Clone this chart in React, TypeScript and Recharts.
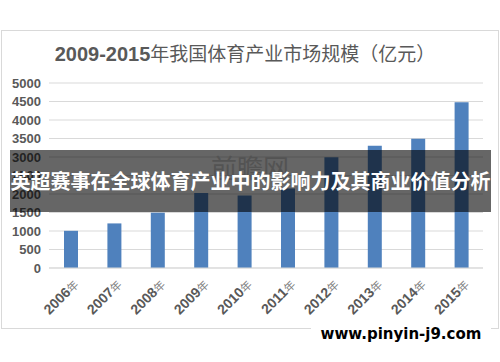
import { Bar, BarChart, CartesianGrid, XAxis, YAxis } from "recharts"

const years = ["2006", "2007", "2008", "2009", "2010", "2011", "2012", "2013", "2014", "2015"]
const marketSize = [1005, 1205, 1495, 2030, 1960, 2150, 2990, 3305, 3495, 4480]
const yTicks = [0, 500, 1000, 1500, 2000, 2500, 3000, 3500, 4000, 4500, 5000]

const data = years.map((y, i) => ({ name: y, total: marketSize[i] }))

const YearTick = (props: any) => {
  const { x, y, payload } = props
  return (
    <g transform={`translate(${x + 5},${y + 6}) rotate(-45)`}>
      <text textAnchor="end" dy={5} fontFamily="Liberation Sans, Arial" fontSize={14} fontWeight="bold" fill="#595959">
        {payload.value}
        <tspan fontSize={11} fontWeight="normal" fontFamily="Noto Sans CJK SC" fill="#7f7f7f">年</tspan>
      </text>
    </g>
  )
}

export default function App() {
  return (
    <div style={{ position: "absolute", left: 0, top: 0, width: 500, height: 362, background: "#fff", overflow: "hidden" }}>
      <div
        style={{
          position: "absolute",
          left: 1,
          top: 30,
          width: 496,
          height: 297,
          border: "1px solid #d9d9d9",
        }}
      />
      <div
        style={{
          position: "absolute",
          left: 0,
          top: 39,
          width: 490,
          textAlign: "center",
          color: "#595959",
          fontSize: 19,
          fontFamily: "Liberation Sans, Noto Sans CJK SC",
          whiteSpace: "nowrap",
        }}
      >
        <span style={{ fontWeight: "bold", fontSize: 20 }}>2009-2015</span>
        <span style={{ fontFamily: "Noto Sans CJK SC" }}>年我国体育产业市场规模（亿元）</span>
      </div>
      <BarChart
        width={500}
        height={362}
        data={data}
        margin={{ top: 83, right: 17, left: 4, bottom: 34 }}
        style={{ position: "absolute", left: 0, top: 0 }}
      >
        <CartesianGrid vertical={false} stroke="#d9d9d9" />
        <XAxis
          dataKey="name"
          tickLine={false}
          axisLine={{ stroke: "#d9d9d9" }}
          tick={<YearTick />}
          height={60}
          interval={0}
        />
        <YAxis
          width={45}
          domain={[0, 5000]}
          ticks={yTicks}
          interval={0}
          tickLine={false}
          axisLine={false}
          tick={{ fill: "#595959", fontSize: 13, fontWeight: "bold", fontFamily: "Liberation Sans, Arial" }}
        />
        <text x={250} y={178} textAnchor="middle" fontSize={26} fontFamily="Noto Sans CJK SC" fill="#d0d0d0">
          前瞻网
        </text>
        <Bar dataKey="total" fill="#4f81bd" barSize={14} isAnimationActive={false} />
      </BarChart>
      <div
        style={{
          position: "absolute",
          left: 10,
          top: 150,
          width: 481,
          height: 62,
          background: "rgba(0,0,0,0.6)",
          color: "#fff",
          fontFamily: "Noto Sans CJK SC",
          fontWeight: "bold",
          fontSize: 20,
          lineHeight: "62px",
          textAlign: "center",
          whiteSpace: "nowrap",
        }}
      >
        英超赛事在全球体育产业中的影响力及其商业价值分析
      </div>
      <div
        style={{
          position: "absolute",
          left: 311,
          top: 316,
          width: 180,
          height: 36,
          background: "#fff",
          borderRadius: 8,
          color: "#000",
          fontFamily: "DejaVu Sans",
          fontWeight: "bold",
          fontSize: 15,
          lineHeight: "36px",
          textAlign: "center",
          whiteSpace: "nowrap",
        }}
      >
        www.pinyin-j9.com
      </div>
    </div>
  )
}
